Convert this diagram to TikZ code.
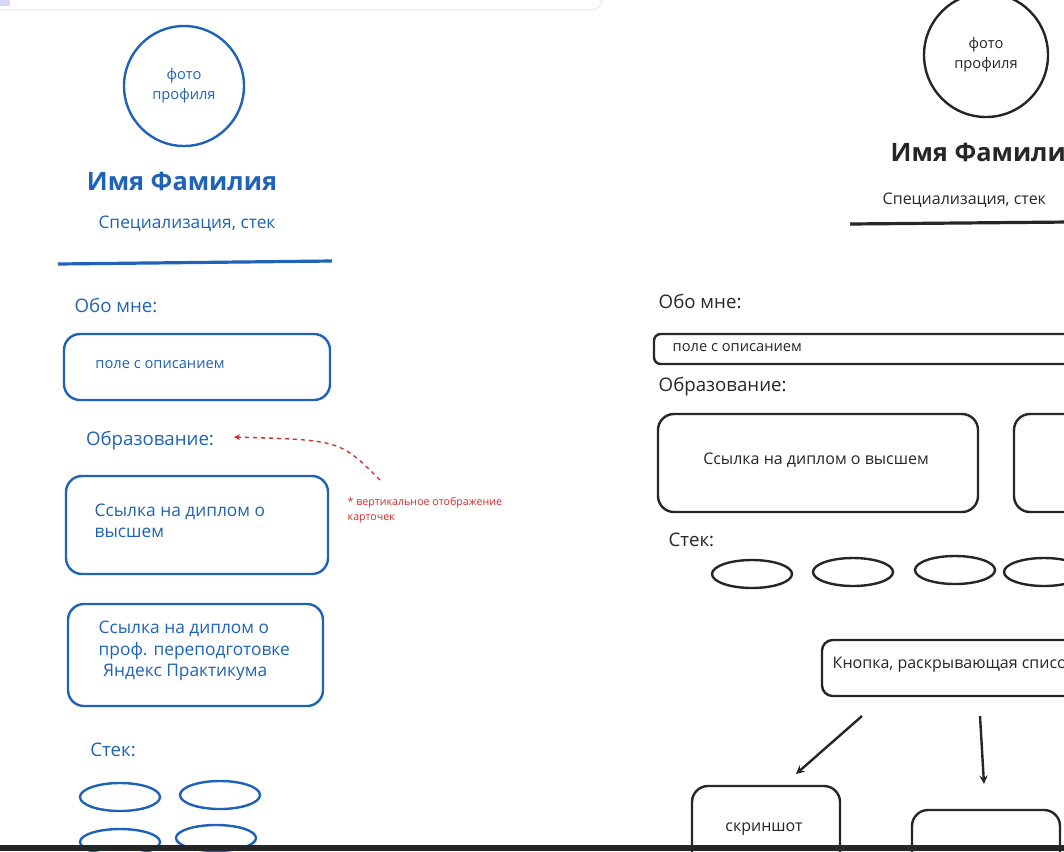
\documentclass[tikz,border=0pt]{standalone}
\usepackage{fontspec}
\setmainfont{Open Sans}
\begin{document}
\begin{tikzpicture}[x=0.75pt,y=-0.75pt,
  bl/.style={draw=blue1,line width=1.8pt},
  bk/.style={draw=black!85,line width=1.8pt},
  tb/.style={text=blue1,font=\fontsize{13}{16}\selectfont,align=center},
  tk/.style={text=black!85,font=\fontsize{12}{15}\selectfont,align=center},
  rr/.style={rounded corners=12pt}]
\definecolor{blue1}{HTML}{1E63B8}
\definecolor{red1}{HTML}{D62828}
\useasboundingbox (0,0) rectangle (1064,851);
\clip (0,0) rectangle (1064,851);
\fill[white] (0,0) rectangle (1064,851);
% top bar
\draw[black!15,fill=white,rounded corners=8pt] (-20,-20) rectangle (602,10);
\fill[blue!15] (0,0) rectangle (10,6);
% LEFT
\draw[bl] (184,86) circle (60);
\node[tb,font=\fontsize{11}{15}\selectfont] (ph) at (184,86) {фото\\профиля};
\node[tb,font=\fontsize{19}{22}\selectfont\bfseries] (nm) at (182,181) {Имя Фамилия};
\node[tb] (sp) at (187,224) {Специализация, стек};
\draw[blue1,line width=2.4pt] (58,264) -- (332,261);
\node[tb,font=\fontsize{14}{16}\selectfont] (ab) at (116,305) {Обо мне:};
\draw[bl,rr] (64,334) rectangle (330,400);
\node[tb,font=\fontsize{11}{14}\selectfont] (ab1) at (160,365) {поле с описанием};
\node[tb,font=\fontsize{14}{16}\selectfont] (ed) at (150,441) {Образование:};
\coordinate (rs) at (380,480);
\draw[red1,line width=1pt,dashed,->,>=stealth] (rs) .. controls (340,440) .. (234,437);
\node[anchor=north west,text=red1,font=\fontsize{8}{11}\selectfont,align=left] (note) at (343,493) {* вертикальное отображение\\карточек};
\draw[bl,rr] (66,476) rectangle (328,574);
\node[tb,align=left,anchor=west] (c1) at (90,521) {Ссылка на диплом о\\высшем};
\draw[bl,rr] (68,604) rectangle (323,706);
\node[tb,align=left,anchor=west] (c2) at (94,651) {Ссылка на диплом о\\проф. переподготовке\\\ Яндекс Практикума};
\node[tb,font=\fontsize{14}{16}\selectfont] (st) at (113,750) {Стек:};
\draw[bl] (120,797) ellipse (40 and 14);
\draw[bl] (220,795) ellipse (40 and 14);
\draw[bl] (120,842) ellipse (40 and 13);
\draw[bl] (216,838) ellipse (40 and 13);
% RIGHT
\draw[bk] (986,55) circle (62);
\node[tk,font=\fontsize{11}{15}\selectfont] (ph2) at (986,55) {фото\\профиля};
\node[tk,anchor=west,font=\fontsize{19}{22}\selectfont\bfseries] (nm2) at (886,152) {Имя Фамилия};
\node[tk,anchor=west] (sp2) at (878,200) {Специализация, стек};
\draw[black!85,line width=2.4pt] (850,224) -- (1070,222);
\node[tk,anchor=west,font=\fontsize{14}{16}\selectfont] (ab2) at (654,301) {Обо мне:};
\draw[bk,rounded corners=5pt] (654,334) rectangle (1090,364);
\node[tk,anchor=west,font=\fontsize{11}{14}\selectfont] (ab3) at (668,348) {поле с описанием};
\node[tk,anchor=west,font=\fontsize{14}{16}\selectfont] (ed2) at (654,387) {Образование:};
\draw[bk,rr] (658,414) rectangle (978,512);
\node[tk] (c3) at (816,460) {Ссылка на диплом о высшем};
\draw[bk,rr] (1014,414) rectangle (1110,512);
\node[tk,anchor=west,font=\fontsize{14}{16}\selectfont] (st2) at (664,540) {Стек:};
\draw[bk] (752,574) ellipse (40 and 14);
\draw[bk] (853,572) ellipse (40 and 14);
\draw[bk] (955,570) ellipse (40 and 14);
\draw[bk] (1044,572) ellipse (40 and 14);
\draw[bk,rounded corners=8pt] (822,640) rectangle (1110,696);
\node[tk,anchor=west] (bt) at (828,665) {Кнопка, раскрывающая список};
\coordinate (a1) at (862,716); \coordinate (a1e) at (796,774);
\coordinate (a2) at (980,716); \coordinate (a2e) at (984,784);
\draw[bk,->,>=stealth] (a1) -- (a1e);
\draw[bk,->,>=stealth] (a2) -- (a2e);
\draw[bk,rr] (692,786) rectangle (840,880);
\node[tk] (sc) at (764,829) {скриншот};
\draw[bk,rr] (912,810) rectangle (1060,880);
% bottom bar
\fill[black!85] (0,845) rectangle (1064,851);
\end{tikzpicture}
\end{document}
